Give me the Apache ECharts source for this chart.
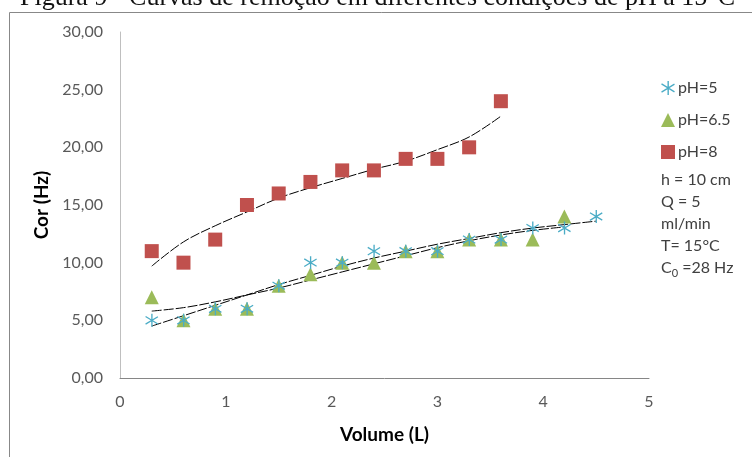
<!DOCTYPE html>
<html>
<head>
<meta charset="utf-8">
<script src="https://cdn.jsdelivr.net/npm/echarts@6/dist/echarts.min.js"></script>
<style>
  html, body { margin: 0; padding: 0; background: #fff; }
  #chart { width: 752px; height: 457px; }
</style>
</head>
<body>
<div id="chart"></div>
<script>
// volumes (L) where samples were taken
const volume = [0.3, 0.6, 0.9, 1.2, 1.5, 1.8, 2.1, 2.4, 2.7, 3.0, 3.3, 3.6, 3.9, 4.2, 4.5]

// cor (Hz) per pH
const ph5 = [5, 5, 6, 6, 8, 10, 10, 11, 11, 11, 12, 12, 13, 13, 14]
const ph65 = [7, 5, 6, 6, 8, 9, 10, 10, 11, 11, 12, 12, 12, 14]
const ph8 = [11, 10, 12, 15, 16, 17, 18, 18, 19, 19, 20, 24]

// trend lines at the same volumes
const trend5 = [4.5, 5.4, 6.3, 7.2, 8.1, 8.9, 9.7, 10.4, 11.0, 11.6, 12.1, 12.6, 13.0, 13.3, 13.6]
const trend65 = [5.8, 6.1, 6.6, 7.2, 7.8, 8.5, 9.2, 9.9, 10.6, 11.3, 11.9, 12.4, 12.8, 13.1]
const trend8 = [9.7, 11.8, 13.2, 14.4, 15.6, 16.5, 17.3, 18.1, 18.8, 19.8, 20.9, 22.7]

const yTicks = [0, 5, 10, 15, 20, 25, 30]
const xTicks = [0, 1, 2, 3, 4, 5]

const notes = ['h = 10 cm', 'Q = 5', 'ml/min', 'T= 15°C', 'C{sub|0} =28 Hz']

const font = 'Lato, "Open Sans", sans-serif'
const asterisk = 'path://M9,0L11,0L11,20L9,20Z M1,3.3L19.5,14.7L18.5,16.4L0,5Z M0,15L18.5,3.6L19.5,5.3L1,16.7Z'

function pairs (ys) {
  return ys.map((y, i) => [volume[i], y])
}

function trendSeries (name, ys) {
  return {
    name: name,
    type: 'line',
    smooth: 0.35,
    showSymbol: false,
    silent: true,
    data: pairs(ys),
    lineStyle: { color: '#000', width: 1, type: [10, 2] },
    z: 1
  }
}

const chart = echarts.init(document.getElementById('chart'), null, { renderer: 'canvas' })

chart.setOption({
  animation: false,
  grid: { left: 120, right: 103, top: 32, bottom: 79 },
  legend: {
    orient: 'vertical',
    left: 656,
    top: 75,
    itemGap: 16,
    itemWidth: 14,
    itemHeight: 14,
    data: ['pH=5', 'pH=6.5', 'pH=8'],
    textStyle: { fontFamily: font, fontSize: 16, color: '#404040', padding: [0, 0, 0, -2] }
  },
  graphic: [
    {
      type: 'rect',
      shape: { x: 9.5, y: 12.5, width: 800, height: 500 },
      style: { fill: 'none', stroke: '#888', lineWidth: 1 },
      silent: true
    },
    {
      type: 'text',
      left: 20,
      top: -14.5,
      style: {
        text: 'Figura 9 - Curvas de remoção em diferentes condições de pH a 15°C',
        font: '26px "Liberation Serif", serif',
        fill: '#111'
      },
      silent: true
    },
    {
      type: 'text',
      left: 661,
      top: 169,
      style: {
        text: notes.join('\n'),
        fontFamily: font,
        fontSize: 16,
        lineHeight: 22,
        fill: '#404040',
        rich: {
          sub: { fontSize: 11, verticalAlign: 'bottom', padding: [7, 0, 0, 0], fill: '#404040', fontFamily: font }
        }
      },
      silent: true
    }
  ],
  xAxis: {
    type: 'value',
    min: 0,
    max: 5,
    interval: 1,
    name: 'Volume (L)',
    nameLocation: 'middle',
    nameGap: 47,
    nameTextStyle: { fontFamily: font, fontSize: 19, fontWeight: 'bold', color: '#000' },
    axisLine: { lineStyle: { color: '#868686' } },
    axisTick: { show: false },
    splitLine: { show: false },
    axisLabel: {
      fontFamily: font, fontSize: 16, color: '#595959', margin: 16,
      customValues: xTicks
    }
  },
  yAxis: {
    type: 'value',
    min: 0,
    max: 30,
    interval: 5,
    name: 'Cor (Hz)',
    nameLocation: 'middle',
    nameGap: 65,
    nameTextStyle: { fontFamily: font, fontSize: 19, fontWeight: 'bold', color: '#000' },
    axisLine: { show: true, lineStyle: { color: '#bfbfbf' } },
    axisTick: { show: false },
    splitLine: { show: false },
    axisLabel: {
      fontFamily: font, fontSize: 16, color: '#595959', margin: 17,
      customValues: yTicks,
      formatter: v => v.toFixed(2).replace('.', ',')
    }
  },
  series: [
    {
      name: 'pH=5',
      type: 'scatter',
      symbol: asterisk,
      symbolSize: 13,
      itemStyle: { color: '#4bacc6', opacity: 1 },
      data: pairs(ph5),
      z: 3
    },
    {
      name: 'pH=6.5',
      type: 'scatter',
      symbol: 'triangle',
      symbolSize: 14,
      itemStyle: { color: '#9bbb59', opacity: 1 },
      data: pairs(ph65),
      z: 2
    },
    {
      name: 'pH=8',
      type: 'scatter',
      symbol: 'rect',
      symbolSize: 14,
      itemStyle: { color: '#c0504d', opacity: 1 },
      data: pairs(ph8),
      z: 2
    },
    trendSeries('t5', trend5),
    trendSeries('t65', trend65),
    trendSeries('t8', trend8)
  ]
})
</script>
</body>
</html>
